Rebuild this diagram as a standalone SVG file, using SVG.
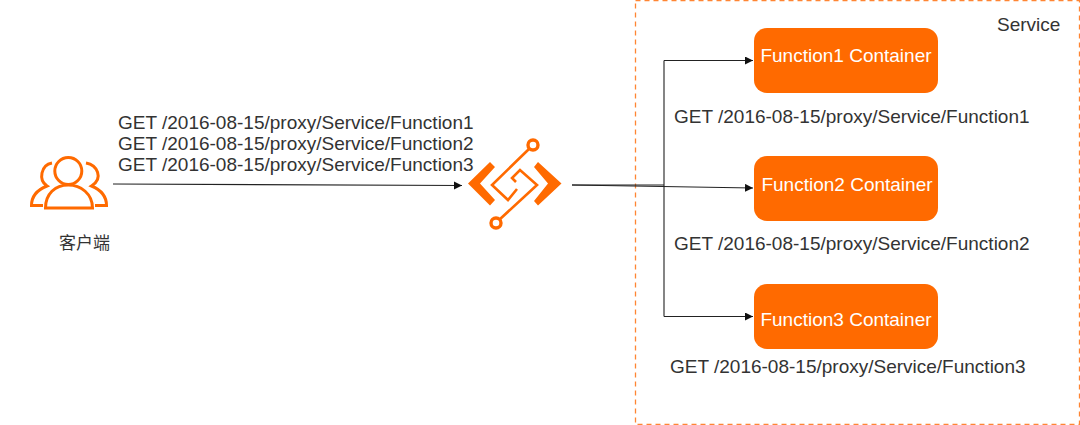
<svg xmlns="http://www.w3.org/2000/svg" width="1080" height="425" viewBox="0 0 1080 425">
<style>
text{font-family:"Liberation Sans","Noto Sans CJK SC",sans-serif;font-size:19px;fill:#333}
.box{fill:#ff6a00}
.lbl{fill:#fff;text-anchor:middle}
.wire{fill:none;stroke:#222;stroke-width:1.1}
.ic{fill:none;stroke:#ff6a00;stroke-width:3}
.icf{fill:#ff6a00}
</style>
<defs><marker id="arrow" markerUnits="userSpaceOnUse" markerWidth="10" markerHeight="10" refX="8" refY="4" orient="auto"><path d="M0 0L8 4L0 8Z" fill="#111"/></marker></defs>
<rect id="service" x="635.5" y="0.5" width="444" height="424" fill="none" stroke="#ff8533" stroke-width="1.3" stroke-dasharray="5 4"/>
<text x="997" y="31">Service</text>
<g id="connectors">
<path class="wire" d="M113 184L462 185.500" marker-end="url(#arrow)"/>
<path class="wire" d="M572 185H664M664 60.500V316.500M664 60.500H753" marker-end="url(#arrow)"/>
<path class="wire" d="M664 316.500H753" marker-end="url(#arrow)"/>
<path class="wire" d="M572 185L753 188" marker-end="url(#arrow)"/>
</g>
<g id="client">
<circle class="ic" cx="68.300" cy="171" r="13.500"/>
<path class="ic" d="M45.500 208C45.500 194 55 185 68.300 185C81 185 92.500 194 92.500 208Z"/>
<path class="ic" d="M52 163C41 165 38 180 47 186C37 190 31.500 197 31.500 205.500H43M86 163C97 165 104 178 91.500 186C101 190 106.500 197 106.500 205.500H95"/>
<text x="59" y="249" style="font-size:17px">客户端</text>
</g>
<g id="gateway">
<path class="icf" d="M468 183.500L490 162L495 167L480 183.500L495 200L490 205.500Z"/>
<path class="icf" d="M561.500 183.500L538 162L534 167L548 183.500L534 201L538 205.500Z"/>
<path class="ic" d="M530 148L492 185L508 200L517 189M516 182L512 178L520 170L537 185L499 220" style="stroke-width:2.6"/>
<circle cx="533" cy="145" r="5" fill="#fff" stroke="#ff6a00" stroke-width="3.4"/>
<circle cx="496" cy="223" r="5" fill="#fff" stroke="#ff6a00" stroke-width="3.4"/>
</g>
<text x="118" y="129">GET /2016-08-15/proxy/Service/Function1</text>
<text x="118" y="150">GET /2016-08-15/proxy/Service/Function2</text>
<text x="118" y="171">GET /2016-08-15/proxy/Service/Function3</text>
<g id="fn1"><rect class="box" x="754" y="28" width="184" height="65" rx="13"/><text class="lbl" x="846" y="62">Function1 Container</text></g>
<g id="fn2"><rect class="box" x="754" y="156" width="184" height="65" rx="13"/><text class="lbl" x="847" y="191">Function2 Container</text></g>
<g id="fn3"><rect class="box" x="754" y="284" width="184" height="65" rx="13"/><text class="lbl" x="846" y="326">Function3 Container</text></g>
<text x="674" y="123">GET /2016-08-15/proxy/Service/Function1</text>
<text x="674" y="250">GET /2016-08-15/proxy/Service/Function2</text>
<text x="670" y="373">GET /2016-08-15/proxy/Service/Function3</text>
</svg>
